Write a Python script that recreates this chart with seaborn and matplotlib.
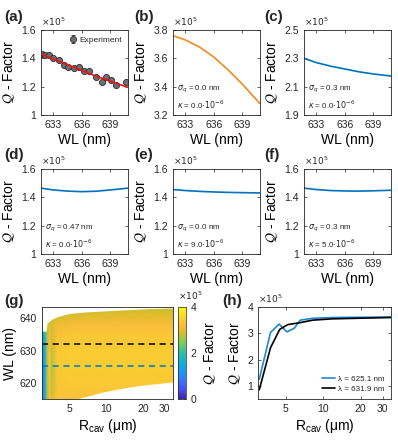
import matplotlib
matplotlib.use("Agg")
import matplotlib.pyplot as plt
import seaborn as sns
import numpy as np
from matplotlib.colors import LinearSegmentedColormap
from matplotlib.ticker import ScalarFormatter, NullLocator

# ---- data ----
exp_wl = [631.77, 632.1, 632.5, 633.0, 633.6, 634.1, 634.6, 635.2, 635.75,
          636.3, 636.8, 637.5, 638.1, 638.6, 639.1, 639.6, 640.7]
exp_q = [1.43, 1.42, 1.42, 1.40, 1.39, 1.35, 1.34, 1.33, 1.34,
         1.31, 1.31, 1.27, 1.23, 1.27, 1.25, 1.21, 1.23]
exp_err = [0.012] * len(exp_q)

curve_wl = [631.7, 633.0, 634.5, 636.0, 637.5, 639.0, 640.9]
fit_q = [1.43, 1.395, 1.355, 1.315, 1.275, 1.24, 1.195]
q_b = [3.76, 3.73, 3.68, 3.61, 3.52, 3.42, 3.28]
q_c = [2.30, 2.27, 2.245, 2.225, 2.205, 2.19, 2.175]
q_d = [1.465, 1.452, 1.444, 1.440, 1.443, 1.452, 1.465]
q_e = [1.455, 1.448, 1.442, 1.438, 1.435, 1.433, 1.431]
q_f = [1.465, 1.455, 1.448, 1.445, 1.444, 1.446, 1.450]

sigma_vals = ["0.0", "0.3", "0.47", "0.0", "0.3"]
kappa_vals = ["0.0", "0.0", "0.0", "9.0", "5.0"]

# map (g)
map_r = [3.0, 3.15, 3.3, 3.45, 3.6, 4.0, 5.0, 7.0, 10.0, 15.0, 22.0, 35.0]
map_wl = [615, 620, 625, 630, 635, 638, 640, 642, 643.5]
map_q = [
    [1.1, 1.3, 2.6, 3.2, 2.9, 3.3, 3.3, 3.3, 3.3, 3.3, 3.3, 3.3],
    [1.0, 1.2, 2.6, 3.3, 2.8, 3.35, 3.4, 3.4, 3.4, 3.4, 3.4, 3.4],
    [1.0, 1.3, 2.7, 3.3, 2.7, 3.4, 3.45, 3.45, 3.45, 3.45, 3.45, 3.45],
    [1.1, 1.4, 2.7, 3.3, 2.8, 3.4, 3.45, 3.45, 3.45, 3.45, 3.45, 3.45],
    [1.3, 1.6, 2.7, 3.2, 2.9, 3.3, 3.35, 3.35, 3.35, 3.35, 3.35, 3.35],
    [1.9, 2.2, 2.7, 3.0, 2.9, 3.1, 3.15, 3.2, 3.2, 3.2, 3.2, 3.2],
    [2.2, 2.4, 2.6, 2.8, 2.8, 2.9, 3.0, 3.05, 3.05, 3.05, 3.05, 3.05],
    [2.4, 2.5, 2.5, 2.6, 2.6, 2.7, 2.8, 2.85, 2.9, 2.9, 2.9, 2.9],
    [2.5, 2.5, 2.5, 2.6, 2.6, 2.65, 2.7, 2.75, 2.8, 2.8, 2.8, 2.8],
]
env_r = [3.0, 3.25, 3.3, 3.6, 4.0, 5.0, 6.0, 7.0, 9.0, 12.0, 16.0, 22.0, 35.0]
env_top = [636.0, 636.0, 638.5, 639.7, 640.5, 641.5, 641.8, 642.0, 642.2, 642.5, 642.7, 643.0, 643.2]
env_bot = [615.0, 615.0, 615.0, 615.0, 615.0, 615.0, 615.2, 615.9, 617.0, 618.0, 618.8, 619.5, 620.3]
lam_blue = 625.1
lam_black = 631.9

# (h)
h_r_blue = [3.07, 3.78, 4.43, 5.12, 5.89, 6.54, 8.24, 11.9, 35.0]
h_q_blue = [1.25, 3.03, 3.35, 3.05, 3.2, 3.5, 3.57, 3.6, 3.62]
h_r_black = [3.07, 3.78, 4.48, 5.2, 6.45, 8.24, 11.9, 35.0]
h_q_black = [0.85, 2.45, 3.15, 3.33, 3.4, 3.5, 3.55, 3.6]

# ---- style ----
sns.set_theme(style="ticks")
plt.rcParams["font.family"] = ["Liberation Sans", "DejaVu Sans"]
plt.rcParams["mathtext.fontset"] = "dejavusans"
dark = "#262626"
plt.rcParams.update({
    "axes.edgecolor": dark, "axes.linewidth": 0.6,
    "xtick.color": dark, "ytick.color": dark,
    "xtick.direction": "in", "ytick.direction": "in",
    "xtick.top": True, "ytick.right": True,
    "xtick.major.size": 2.5, "ytick.major.size": 2.5,
    "xtick.major.width": 0.5, "ytick.major.width": 0.5,
    "xtick.labelsize": 7.5, "ytick.labelsize": 7.5,
    "axes.labelsize": 10, "axes.labelcolor": "black",
})

parula = LinearSegmentedColormap.from_list("parula", [
    (0.00, (0.2422, 0.1504, 0.6603)),
    (0.11, (0.2810, 0.3228, 0.9579)),
    (0.25, (0.1707, 0.5372, 0.9643)),
    (0.38, (0.0590, 0.6838, 0.8520)),
    (0.50, (0.1844, 0.7450, 0.6560)),
    (0.62, (0.5044, 0.7993, 0.3480)),
    (0.73, (0.8634, 0.7406, 0.1596)),
    (0.81, (0.9892, 0.7428, 0.2386)),
    (0.90, (0.9661, 0.8430, 0.1590)),
    (1.00, (0.9763, 0.9831, 0.0538)),
])

BLUE = "#0072BD"
fig = plt.figure(figsize=(3.98, 4.40), dpi=100)
W, H = 398.0, 440.0


def add_ax(left, top, width, height):
    return fig.add_axes([left / W, (H - top - height) / H, width / W, height / H])


qlabel = r"$\mathcal{Q}$ - Factor"


def x10(ax, x=0.0, y=1.02):
    ax.text(x, y, r"$\times10^5$", transform=ax.transAxes, fontsize=6.5,
            color=dark, ha="left", va="bottom")


def panel(s, x, y):
    # x, y: top-left of the label in figure pixels
    fig.text(x / W, 1 - y / H, s, fontsize=11, fontweight="bold",
             ha="left", va="top")


def wl_axes(ax, ylim, yticks):
    ax.set_xlim(631.7, 640.9)
    ax.set_xticks([633, 636, 639])
    ax.set_ylim(*ylim)
    ax.set_yticks(yticks)
    ax.set_yticklabels([f"{t:g}" for t in yticks])
    ax.set_xlabel("WL (nm)", labelpad=2)
    ax.set_ylabel(qlabel, labelpad=3)
    x10(ax)


cols = [41, 173, 304]
rows = [30, 169]
aw, ah = 87, 85
label_x = [4, 134, 264]
label_y = [10, 148]

# (a)
ax = add_ax(cols[0], rows[0], aw, ah)
ax.errorbar(exp_wl, exp_q, yerr=exp_err, fmt="o", ms=4.4, mfc="#6e6e6e",
            mec="#2a2a2a", mew=0.6, ecolor="#2a2a2a", elinewidth=0.6,
            capsize=1.5, label="Experiment", zorder=2)
sns.lineplot(x=curve_wl, y=fit_q, ax=ax, color="#E8151B", lw=1.2, zorder=3)
ax.legend(loc="upper right", frameon=False, fontsize=6, handlelength=1.0,
          handletextpad=0.3, borderaxespad=0.3)
wl_axes(ax, (1.0, 1.6), [1, 1.2, 1.4, 1.6])
panel("(a)", label_x[0], label_y[0])

specs = [
    ("(b)", 1, 0, q_b, "#F28A1E", (3.2, 3.8), [3.2, 3.4, 3.6, 3.8]),
    ("(c)", 2, 0, q_c, BLUE, (1.9, 2.5), [1.9, 2.1, 2.3, 2.5]),
    ("(d)", 0, 1, q_d, BLUE, (1.0, 1.6), [1, 1.2, 1.4, 1.6]),
    ("(e)", 1, 1, q_e, BLUE, (1.0, 1.6), [1, 1.2, 1.4, 1.6]),
    ("(f)", 2, 1, q_f, BLUE, (1.0, 1.6), [1, 1.2, 1.4, 1.6]),
]
for i, (lab, ci, ri, qv, col, yl, yt) in enumerate(specs):
    ax = add_ax(cols[ci], rows[ri], aw, ah)
    sns.lineplot(x=curve_wl, y=qv, ax=ax, color=col, lw=1.2)
    wl_axes(ax, yl, yt)
    ax.text(0.05, 0.30, r"$\sigma_q$ = " + sigma_vals[i] + " nm", transform=ax.transAxes,
            fontsize=5.8, va="center")
    ax.text(0.05, 0.12, r"$\kappa$ = " + kappa_vals[i] + r"$\cdot10^{-6}$",
            transform=ax.transAxes, fontsize=5.8, va="center")
    panel(lab, label_x[ci], label_y[ri])

# (g)
ax = add_ax(42, 307, 131, 92)
R, L = np.meshgrid(map_r, map_wl)
mesh = ax.pcolormesh(R, L, np.array(map_q), cmap=parula, vmin=0, vmax=4,
                     shading="gouraud", rasterized=True)
ax.fill_between(env_r, env_top, 645, color="white", lw=0, zorder=2)
ax.fill_between(env_r, 610, env_bot, color="white", lw=0, zorder=2)
ax.axhline(lam_black, color="black", ls=(0, (4, 3)), lw=1.1, zorder=3)
ax.axhline(lam_blue, color="#0077CC", ls=(0, (4, 3)), lw=1.1, zorder=3)
ax.set_xscale("log")
ax.set_xlim(3.0, 35)
ax.set_ylim(615, 643.5)
ax.set_xticks([5, 10, 20, 30])
ax.xaxis.set_major_formatter(ScalarFormatter())
ax.xaxis.set_minor_locator(NullLocator())
ax.set_yticks([620, 630, 640])
ax.set_xlabel(r"R$_\mathregular{cav}$ (μm)", labelpad=2)
ax.set_ylabel("WL (nm)", labelpad=2)
for s in ax.spines.values():
    s.set_zorder(4)
panel("(g)", 4, 294)

cax = add_ax(178, 307, 8, 92)
cb = fig.colorbar(mesh, cax=cax, ticks=[0, 2, 4])
cb.outline.set_linewidth(0.5)
cax.tick_params(direction="in", length=2.5, labelsize=7.5, right=True, left=True)
cb.set_label(qlabel, fontsize=10, labelpad=4)
x10(cax, 0.0, 1.05)

# (h)
ax = add_ax(258, 307, 133, 92)
sns.lineplot(x=h_r_blue, y=h_q_blue, ax=ax, color="#1E88D2", lw=1.2,
             label="λ = 625.1 nm")
sns.lineplot(x=h_r_black, y=h_q_black, ax=ax, color="black", lw=1.2,
             label="λ = 631.9 nm")
ax.set_xscale("log")
ax.set_xlim(3.0, 35)
ax.set_ylim(0.5, 4)
ax.set_xticks([5, 10, 20, 30])
ax.xaxis.set_major_formatter(ScalarFormatter())
ax.xaxis.set_minor_locator(NullLocator())
ax.set_yticks([1, 2, 3, 4])
ax.set_xlabel(r"R$_\mathregular{cav}$ (μm)", labelpad=2)
ax.set_ylabel(qlabel, labelpad=3)
ax.legend(loc="lower right", frameon=False, fontsize=5.8, handlelength=1.6,
          handletextpad=0.4, borderaxespad=0.4, labelspacing=0.3)
x10(ax)
panel("(h)", 222, 294)

fig.savefig("out.png", dpi=100)
